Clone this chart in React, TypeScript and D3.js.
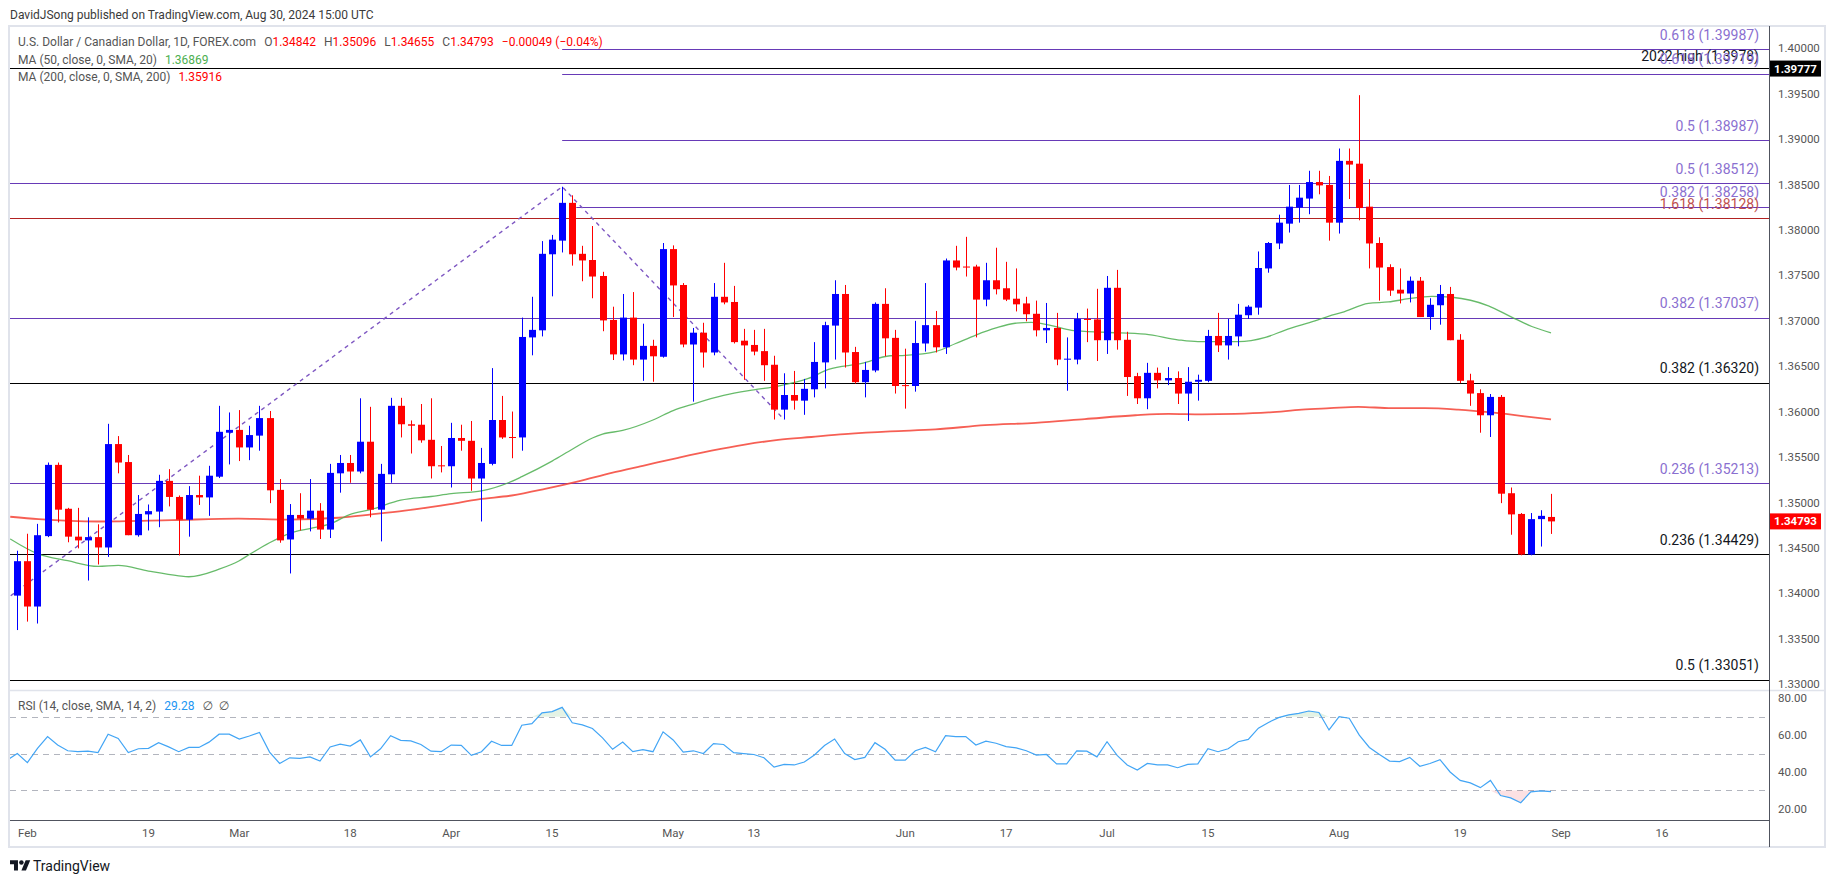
import React from 'react';
import * as d3 from 'd3';

// USD/CAD daily, 31 Jan – 30 Aug 2024 (one entry per weekday)
const opens = [
  1.33976, 1.34355, 1.33856, 1.34631, 1.35415, 1.34932, 1.34625, 1.34584, 1.34620, 1.34506,
  1.35644, 1.35446, 1.34641, 1.34870, 1.34901, 1.35239, 1.35062, 1.34812, 1.35083, 1.35057,
  1.35285, 1.35769, 1.35800, 1.35607, 1.35737, 1.35930, 1.35140, 1.34594, 1.34864, 1.34823,
  1.34911, 1.34703, 1.35322, 1.35436, 1.35342, 1.35670, 1.34922, 1.35311, 1.36065, 1.35862,
  1.35857, 1.35691, 1.35410, 1.35400, 1.35711, 1.35680, 1.35265, 1.35426, 1.35909, 1.35722,
  1.35717, 1.36818, 1.36896, 1.37733, 1.37883, 1.38299, 1.37738, 1.37670, 1.37494, 1.37010,
  1.36631, 1.37036, 1.36574, 1.36725, 1.36605, 1.37790, 1.37395, 1.36740, 1.36870, 1.36652,
  1.37265, 1.37208, 1.36782, 1.36735, 1.36667, 1.36517, 1.36023, 1.36184, 1.36122, 1.36247,
  1.36543, 1.36948, 1.37296, 1.36657, 1.36325, 1.36454, 1.37187, 1.36813, 1.36293, 1.36283,
  1.36751, 1.36953, 1.36709, 1.37665, 1.37598, 1.37598, 1.37234, 1.37447, 1.37359, 1.37244,
  1.37192, 1.37078, 1.36896, 1.36922, 1.36574, 1.36574, 1.37021, 1.37016, 1.36787, 1.37364,
  1.36792, 1.36392, 1.36148, 1.36428, 1.36345, 1.36371, 1.36200, 1.36330, 1.36340, 1.36834,
  1.36730, 1.36829, 1.37062, 1.37146, 1.37577, 1.37852, 1.38070, 1.38247, 1.38346, 1.38528,
  1.38496, 1.38081, 1.38761, 1.38730, 1.38257, 1.37857, 1.37592, 1.37343, 1.37301, 1.37442,
  1.37042, 1.37172, 1.37296, 1.36792, 1.36345, 1.36205, 1.35961, 1.36163, 1.35103, 1.34875,
  1.34428, 1.34818, 1.34842,
];
const highs = [
  1.34470, 1.34657, 1.34766, 1.35441, 1.35441, 1.34942, 1.34942, 1.34838, 1.34761, 1.35867,
  1.35732, 1.35524, 1.35083, 1.34979, 1.35306, 1.35368, 1.35078, 1.35181, 1.35296, 1.35405,
  1.36065, 1.35992, 1.36018, 1.35846, 1.36065, 1.36008, 1.35259, 1.34984, 1.35103, 1.35259,
  1.34994, 1.35426, 1.35524, 1.35524, 1.36148, 1.36054, 1.35426, 1.36153, 1.36153, 1.35904,
  1.36085, 1.36148, 1.35623, 1.35878, 1.35857, 1.35898, 1.35602, 1.36480, 1.36174, 1.36002,
  1.37036, 1.37265, 1.37878, 1.37946, 1.38476, 1.38382, 1.37826, 1.38044, 1.37540, 1.37156,
  1.37296, 1.37317, 1.36969, 1.36792, 1.37857, 1.37831, 1.37416, 1.36922, 1.36979, 1.37416,
  1.37639, 1.37385, 1.36912, 1.36901, 1.36912, 1.36616, 1.36423, 1.36449, 1.36361, 1.36766,
  1.36990, 1.37447, 1.37395, 1.36714, 1.36548, 1.37203, 1.37359, 1.36901, 1.36694, 1.37000,
  1.37416, 1.37109, 1.37686, 1.37826, 1.37925, 1.37618, 1.37639, 1.37805, 1.37650, 1.37577,
  1.37265, 1.37223, 1.37197, 1.37088, 1.36818, 1.37088, 1.37135, 1.37353, 1.37494, 1.37561,
  1.36880, 1.36428, 1.36538, 1.36486, 1.36491, 1.36444, 1.36491, 1.36408, 1.36901, 1.37088,
  1.37021, 1.37187, 1.37172, 1.37764, 1.37868, 1.38169, 1.38496, 1.38496, 1.38652, 1.38652,
  1.38595, 1.38897, 1.38897, 1.39484, 1.38559, 1.37920, 1.37623, 1.37577, 1.37488, 1.37483,
  1.37249, 1.37395, 1.37374, 1.36854, 1.36418, 1.36247, 1.36195, 1.36184, 1.35166, 1.34885,
  1.34885, 1.34916, 1.35096,
];
const lows = [
  1.33597, 1.33690, 1.33669, 1.34620, 1.34781, 1.34563, 1.34496, 1.34142, 1.34319, 1.34402,
  1.35322, 1.34641, 1.34625, 1.34693, 1.34729, 1.34958, 1.34418, 1.34625, 1.34974, 1.34854,
  1.35270, 1.35420, 1.35457, 1.35467, 1.35571, 1.34994, 1.34558, 1.34220, 1.34693, 1.34683,
  1.34599, 1.34610, 1.35109, 1.35218, 1.35322, 1.34838, 1.34573, 1.35218, 1.35717, 1.35540,
  1.35659, 1.35265, 1.35332, 1.35166, 1.35571, 1.35130, 1.34792, 1.35410, 1.35701, 1.35488,
  1.35571, 1.36621, 1.36829, 1.37270, 1.37753, 1.37608, 1.37436, 1.37249, 1.36886, 1.36569,
  1.36564, 1.36512, 1.36340, 1.36330, 1.36595, 1.37042, 1.36709, 1.36111, 1.36486, 1.36621,
  1.37182, 1.36751, 1.36351, 1.36621, 1.36340, 1.35914, 1.35914, 1.36023, 1.35966, 1.36158,
  1.36257, 1.36574, 1.36486, 1.36309, 1.36158, 1.36434, 1.36610, 1.36200, 1.36034, 1.36221,
  1.36662, 1.36652, 1.36636, 1.37556, 1.37488, 1.36818, 1.37161, 1.37291, 1.37218, 1.37104,
  1.36995, 1.36829, 1.36756, 1.36512, 1.36231, 1.36522, 1.36766, 1.36558, 1.36636, 1.36683,
  1.36174, 1.36085, 1.36028, 1.36257, 1.36293, 1.36085, 1.35898, 1.36122, 1.36325, 1.36657,
  1.36574, 1.36720, 1.37021, 1.37068, 1.37530, 1.37790, 1.37972, 1.38081, 1.38174, 1.38393,
  1.37883, 1.37961, 1.38341, 1.38107, 1.37577, 1.37223, 1.37275, 1.37192, 1.37203, 1.37042,
  1.36901, 1.36958, 1.36787, 1.36314, 1.36065, 1.35769, 1.35722, 1.34994, 1.34646, 1.34420,
  1.34420, 1.34516, 1.34655,
];
const closes = [
  1.34355, 1.33856, 1.34641, 1.35415, 1.34922, 1.34625, 1.34584, 1.34620, 1.34506, 1.35644,
  1.35441, 1.34641, 1.34875, 1.34906, 1.35239, 1.35062, 1.34812, 1.35083, 1.35057, 1.35296,
  1.35779, 1.35800, 1.35607, 1.35743, 1.35930, 1.35135, 1.34584, 1.34864, 1.34823, 1.34911,
  1.34703, 1.35327, 1.35436, 1.35342, 1.35670, 1.34922, 1.35316, 1.36065, 1.35862, 1.35846,
  1.35685, 1.35400, 1.35400, 1.35711, 1.35680, 1.35265, 1.35436, 1.35909, 1.35717, 1.35711,
  1.36823, 1.36901, 1.37738, 1.37894, 1.38299, 1.37733, 1.37665, 1.37488, 1.37005, 1.36631,
  1.37036, 1.36574, 1.36725, 1.36610, 1.37790, 1.37390, 1.36740, 1.36870, 1.36652, 1.37265,
  1.37203, 1.36766, 1.36730, 1.36662, 1.36512, 1.36023, 1.36184, 1.36122, 1.36252, 1.36548,
  1.36953, 1.37296, 1.36652, 1.36325, 1.36460, 1.37187, 1.36808, 1.36283, 1.36283, 1.36756,
  1.36953, 1.36709, 1.37665, 1.37587, 1.37587, 1.37234, 1.37447, 1.37348, 1.37234, 1.37182,
  1.37073, 1.36896, 1.36922, 1.36574, 1.36584, 1.37021, 1.37010, 1.36787, 1.37364, 1.36787,
  1.36382, 1.36148, 1.36428, 1.36345, 1.36371, 1.36200, 1.36330, 1.36351, 1.36834, 1.36730,
  1.36834, 1.37068, 1.37156, 1.37582, 1.37857, 1.38081, 1.38257, 1.38356, 1.38528, 1.38491,
  1.38081, 1.38761, 1.38720, 1.38242, 1.37852, 1.37587, 1.37333, 1.37301, 1.37442, 1.37042,
  1.37177, 1.37296, 1.36787, 1.36340, 1.36200, 1.35961, 1.36163, 1.35098, 1.34870, 1.34428,
  1.34818, 1.34854, 1.34793,
];

// RSI(14) per bar, first value is 30 Jan (off the left edge)
const rsiValues = [
  46.5,
  50.0, 45.1, 52.8, 59.2, 54.6, 51.5, 51.0, 51.3, 50.5, 60.5,
  58.2, 50.5, 52.6, 52.8, 55.9, 53.6, 51.0, 53.3, 53.3, 56.2,
  60.5, 60.5, 57.9, 59.5, 61.5, 50.8, 44.6, 47.7, 47.4, 48.2,
  45.9, 53.6, 55.1, 54.1, 57.4, 48.2, 52.6, 59.7, 57.2, 56.9,
  54.9, 51.3, 51.0, 54.6, 54.4, 49.0, 51.0, 56.7, 54.4, 54.4,
  65.4, 66.2, 72.1, 72.8, 75.1, 66.7, 65.6, 63.6, 58.5, 52.3,
  56.2, 51.0, 52.1, 51.0, 61.8, 57.4, 50.8, 51.5, 50.0, 55.4,
  54.9, 50.5, 50.0, 49.5, 47.7, 42.6, 44.1, 43.8, 45.4, 49.2,
  54.4, 57.9, 50.0, 46.7, 47.9, 55.9, 52.3, 46.4, 46.4, 51.5,
  53.3, 51.0, 59.7, 59.2, 59.2, 54.6, 56.7, 55.6, 53.8, 53.1,
  51.5, 49.2, 49.5, 44.4, 44.4, 51.5, 51.3, 48.2, 56.4, 49.0,
  43.8, 41.0, 44.6, 43.8, 43.8, 42.3, 44.1, 44.4, 52.6, 51.0,
  52.6, 56.4, 57.7, 63.8, 66.9, 69.5, 71.0, 71.8, 73.1, 72.3,
  62.8, 70.0, 69.2, 60.0, 53.3, 49.5, 45.9, 45.6, 47.9, 43.1,
  44.6, 46.7, 40.0, 35.4, 34.1, 31.5, 35.4, 27.2, 25.9, 23.3,
  29.2, 29.7, 29.28,
];

// moving averages at bar positions
const ma50Idx = [-0.7, 2, 5, 8, 10, 13, 16, 17, 20, 22, 23, 25, 27, 29, 31, 33, 35, 38, 41, 43, 46, 49, 50, 53, 55, 57, 58, 60, 63, 65, 67, 70, 73, 75.4, 78.4, 80.4, 83.7, 86.5, 88, 91, 93, 95, 97, 98.9, 100.5, 102.5, 104.5, 107.8, 111.8, 115, 117, 121, 123.7, 125.6, 128.6, 130, 131.3, 133.9, 135.9, 137.9, 140.2, 142.2, 145.8, 148.1, 150.1, 152];
const ma50Val = [1.34600, 1.34438, 1.34360, 1.34298, 1.34309, 1.34246, 1.34194, 1.34184, 1.34267, 1.34360, 1.34428, 1.34558, 1.34662, 1.34714, 1.34766, 1.34870, 1.34922, 1.35026, 1.35067, 1.35098, 1.35129, 1.35233, 1.35285, 1.35457, 1.35587, 1.35711, 1.35753, 1.35794, 1.35909, 1.36013, 1.36085, 1.36179, 1.36241, 1.36283, 1.36366, 1.36465, 1.36532, 1.36616, 1.36621, 1.36662, 1.36751, 1.36844, 1.36922, 1.36974, 1.36984, 1.36948, 1.36896, 1.36875, 1.36854, 1.36792, 1.36771, 1.36771, 1.36818, 1.36896, 1.37000, 1.37052, 1.37093, 1.37192, 1.37208, 1.37244, 1.37270, 1.37260, 1.37166, 1.37042, 1.36938, 1.36869];
const ma200Idx = [-0.7, 2.1, 8, 15.3, 21.9, 26.9, 31.8, 35.1, 38.4, 42.9, 45.7, 49, 52.3, 55.6, 58.9, 62.2, 65.5, 68.8, 72.1, 75.4, 78.7, 82, 86.5, 91, 95.9, 100.9, 105.8, 110.8, 114.1, 117.4, 120.7, 124, 127.3, 130.1, 132.9, 136.2, 139.5, 142.8, 146.1, 149.4, 152];
const ma200Val = [1.34844, 1.34818, 1.34792, 1.34807, 1.34823, 1.34813, 1.34833, 1.34870, 1.34911, 1.34984, 1.35036, 1.35078, 1.35150, 1.35233, 1.35327, 1.35410, 1.35493, 1.35571, 1.35638, 1.35690, 1.35722, 1.35753, 1.35784, 1.35805, 1.35852, 1.35878, 1.35919, 1.35961, 1.35976, 1.35971, 1.35976, 1.35992, 1.36023, 1.36039, 1.36054, 1.36039, 1.36039, 1.36023, 1.35992, 1.35950, 1.35916];

// fibonacci / reference levels
const fibLevels = [1.39987, 1.3978, 1.39719, 1.38987, 1.38512, 1.38258, 1.38128, 1.37037, 1.3632, 1.35213, 1.34429, 1.33051];
const fibLabels = ['0.618 (1.39987)', '2022 high (1.3978)', '0.618 (1.39719)', '0.5 (1.38987)', '0.5 (1.38512)', '0.382 (1.38258)', '1.618 (1.38128)', '0.382 (1.37037)', '0.382 (1.36320)', '0.236 (1.35213)', '0.236 (1.34429)', '0.5 (1.33051)'];
const fibKinds = ['purple', 'black', 'purple', 'purple', 'purple', 'purple', 'red', 'purple', 'black', 'purple', 'black', 'black'];
const fibStart: (number | null)[] = [54, null, 54, 54, null, 55.4, null, null, null, null, null, null];

// dashed swing line: low off the left edge -> 16 Apr high -> 16 May low
const swingIdx = [-0.65, 54, 76];
const swingVal = [1.33975, 1.38476, 1.35914];

const priceTicks = [1.33, 1.335, 1.34, 1.345, 1.35, 1.355, 1.36, 1.365, 1.37, 1.375, 1.38, 1.385, 1.39, 1.395, 1.40];
const rsiTicks = [20, 40, 60, 80];
const rsiBands = [70, 50, 30];
const timeTickDates = ['2024-02-01', '2024-02-19', '2024-03-01', '2024-03-18', '2024-04-01', '2024-04-15', '2024-05-01', '2024-05-13', '2024-06-03', '2024-06-17', '2024-07-01', '2024-07-15', '2024-08-01', '2024-08-19', '2024-09-02', '2024-09-16'];
const timeTickLabels = ['Feb', '19', 'Mar', '18', 'Apr', '15', 'May', '13', 'Jun', '17', 'Jul', '15', 'Aug', '19', 'Sep', '16'];

const W = 1835;
const H = 883;
const plotL = 10;
const plotR = 1769;
const mainTop = 27;
const mainBot = 690;
const rsiTop = 691;
const rsiBot = 820;
const FONT = 'Roboto, "DejaVu Sans", sans-serif';

const lineColor: Record<string, string> = { purple: '#673ab7', black: '#000000', red: '#b22222' };
const textColor: Record<string, string> = { purple: '#8a6fd0', black: '#131722', red: '#c0504d' };

const UP = '#0000ff';
const DOWN = '#ff0000';

const days = d3.utcDay
  .range(new Date(Date.UTC(2024, 0, 31)), new Date(Date.UTC(2024, 9, 1)))
  .filter(d => d.getUTCDay() !== 0 && d.getUTCDay() !== 6);
const dayKey = d3.utcFormat('%Y-%m-%d');
const dayIndex = new Map(days.map((d, i) => [dayKey(d), i]));

export default function App() {
  const n = closes.length;
  const x = d3.scaleLinear().domain([0, n - 1]).range([17.3, 1551]);
  const y = d3.scaleLinear().domain([1.33, 1.4]).range([684.3, 48.3]);
  const ry = d3.scaleLinear().domain([20, 80]).range([808.8, 698.3]);

  const maLine = d3.line<[number, number]>()
    .x(d => x(d[0]))
    .y(d => y(d[1]))
    .curve(d3.curveMonotoneX);

  const ma50Path = maLine(ma50Idx.map((v, i) => [v, ma50Val[i]]));
  const ma200Path = maLine(ma200Idx.map((v, i) => [v, ma200Val[i]]));

  const swingPath = d3.line<number>()
    .x((d, i) => x(swingIdx[i]))
    .y(d => y(d))(swingVal);

  const rsiPts: [number, number][] = rsiValues.map((v, i) => [i - 1, v]);
  const rsiPath = d3.line<[number, number]>().x(d => x(d[0])).y(d => ry(d[1]))(rsiPts);
  const obArea = d3.area<[number, number]>().x(d => x(d[0])).y0(ry(70)).y1(d => ry(Math.max(d[1], 70)))(rsiPts);
  const osArea = d3.area<[number, number]>().x(d => x(d[0])).y0(ry(30)).y1(d => ry(Math.min(d[1], 30)))(rsiPts);

  const crisp = (v: number) => Math.round(v) + 0.5;

  const last = n - 1;
  const lastUp = closes[last] >= opens[last];

  return (
    <svg width={W} height={H} style={{ position: 'absolute', left: 0, top: 0, display: 'block' }} fontFamily={FONT}>
      <defs>
        <clipPath id="mainClip">
          <rect x={plotL} y={mainTop} width={plotR - plotL} height={mainBot - mainTop} />
        </clipPath>
        <clipPath id="rsiClip">
          <rect x={plotL} y={rsiTop} width={plotR - plotL} height={rsiBot - rsiTop} />
        </clipPath>
      </defs>
      <rect x={0} y={0} width={W} height={H} fill="#ffffff" />

      <text x={10} y={19} fontSize={12} fill="#3a3a3a">DavidJSong published on TradingView.com, Aug 30, 2024 15:00 UTC</text>

      {/* frame */}
      <rect x={9} y={26} width={1816} height={821} fill="none" stroke="#e0e3eb" strokeWidth={2} />
      <line x1={9} x2={1825} y1={690.5} y2={690.5} stroke="#e0e3eb" strokeWidth={1.5} />
      <line x1={plotL} x2={plotR} y1={820.5} y2={820.5} stroke="#50535e" strokeWidth={1} />
      <line x1={plotR + 0.5} x2={plotR + 0.5} y1={26} y2={847} stroke="#50535e" strokeWidth={1} />

      {/* main pane */}
      <g clipPath="url(#mainClip)">
        {fibLevels.map((lv, i) => (
          <line key={'f' + i}
            x1={fibStart[i] == null ? plotL : x(fibStart[i] as number)} x2={plotR}
            y1={crisp(y(lv))} y2={crisp(y(lv))}
            stroke={lineColor[fibKinds[i]]} strokeWidth={1} />
        ))}
        <path d={swingPath || ''} fill="none" stroke="#7e57c2" strokeWidth={1.4} strokeDasharray="4,4" />
        <path d={ma200Path || ''} fill="none" stroke="#f44336" strokeOpacity={0.85} strokeWidth={1.8} />
        <path d={ma50Path || ''} fill="none" stroke="#4caf50" strokeOpacity={0.85} strokeWidth={1.3} />
        {closes.map((c, i) => {
          const o = opens[i];
          const up = c >= o;
          const col = up ? UP : DOWN;
          const cx = Math.round(x(i));
          const top = y(Math.max(o, c));
          const bot = y(Math.min(o, c));
          return (
            <g key={'c' + i}>
              <line x1={cx + 0.5} x2={cx + 0.5} y1={y(highs[i])} y2={y(lows[i])} stroke={col} strokeWidth={1} />
              <rect x={cx - 3} y={top} width={7} height={Math.max(1, bot - top)} fill={col} />
            </g>
          );
        })}
        {fibLevels.map((lv, i) => (
          <text key={'fl' + i} x={1759} y={y(lv) - (fibKinds[i] === 'black' && i === 1 ? 7 : 9.5)}
            textAnchor="end" fontSize={14} fill={textColor[fibKinds[i]]}>{fibLabels[i]}</text>
        ))}
      </g>

      {/* legend */}
      <text x={18} y={46} fontSize={12} fill="#555">
        U.S. Dollar / Canadian Dollar, 1D, FOREX.com
        <tspan dx={8}>O</tspan><tspan fill={DOWN}>{opens[last].toFixed(5)}</tspan>
        <tspan dx={8}>H</tspan><tspan fill={DOWN}>{highs[last].toFixed(5)}</tspan>
        <tspan dx={8}>L</tspan><tspan fill={DOWN}>{lows[last].toFixed(5)}</tspan>
        <tspan dx={8}>C</tspan><tspan fill={DOWN}>{closes[last].toFixed(5)}</tspan>
        <tspan dx={8} fill={DOWN}>−0.00049 (−0.04%)</tspan>
      </text>
      <text x={18} y={64} fontSize={12} fill="#555">
        MA (50, close, 0, SMA, 20)<tspan dx={8} fill="#4caf50">{ma50Val[ma50Val.length - 1].toFixed(5)}</tspan>
      </text>
      <text x={18} y={81} fontSize={12} fill="#555">
        MA (200, close, 0, SMA, 200)<tspan dx={8} fill={DOWN}>{ma200Val[ma200Val.length - 1].toFixed(5)}</tspan>
      </text>

      {/* price axis */}
      {priceTicks.map(t => (
        <text key={'p' + t} x={1778} y={y(t) + 4} fontSize={11.5} fill="#555">{t.toFixed(5)}</text>
      ))}
      <rect x={1770} y={y(1.39777) - 8} width={51} height={16} fill="#000" />
      <text x={1795.5} y={y(1.39777) + 4} textAnchor="middle" fontSize={11.5} fontWeight="bold" fill="#fff">1.39777</text>
      <rect x={1770} y={y(closes[last]) - 8} width={51} height={16} fill={lastUp ? UP : DOWN} />
      <text x={1795.5} y={y(closes[last]) + 4} textAnchor="middle" fontSize={11.5} fontWeight="bold" fill="#fff">{closes[last].toFixed(5)}</text>

      {/* RSI pane */}
      <g clipPath="url(#rsiClip)">
        {rsiBands.map(b => (
          <line key={'b' + b} x1={plotL} x2={plotR} y1={crisp(ry(b))} y2={crisp(ry(b))}
            stroke="#b2b5be" strokeWidth={1} strokeDasharray="6,5" />
        ))}
        <path d={obArea || ''} fill="rgba(76,175,80,0.15)" />
        <path d={osArea || ''} fill="rgba(242,54,69,0.15)" />
        <path d={rsiPath || ''} fill="none" stroke="#42a5f5" strokeWidth={1.2} />
      </g>
      <text x={18} y={710} fontSize={12} fill="#555">
        RSI (14, close, SMA, 14, 2)<tspan dx={8} fill="#2196f3">{rsiValues[rsiValues.length - 1].toFixed(2)}</tspan>
        <tspan dx={8}>∅</tspan><tspan dx={6}>∅</tspan>
      </text>
      {rsiTicks.map(t => (
        <text key={'r' + t} x={1778} y={ry(t) + 4} fontSize={11.5} fill="#555">{t.toFixed(2)}</text>
      ))}

      {/* time axis */}
      {timeTickDates.map((d, i) => (
        <text key={'t' + d} x={x(dayIndex.get(d) as number)} y={837} textAnchor="middle" fontSize={11.5} fill="#555">{timeTickLabels[i]}</text>
      ))}

      {/* logo */}
      <g transform="translate(10,858) scale(0.57)">
        <path d="M14 22H7V11H0V4h14v18zM28 22h-8l7.5-18h8L28 22z" fill="#131722" />
        <circle cx={20} cy={8} r={4} fill="#131722" />
      </g>
      <text x={33} y={871} fontSize={14} fill="#131722">TradingView</text>
    </svg>
  );
}
